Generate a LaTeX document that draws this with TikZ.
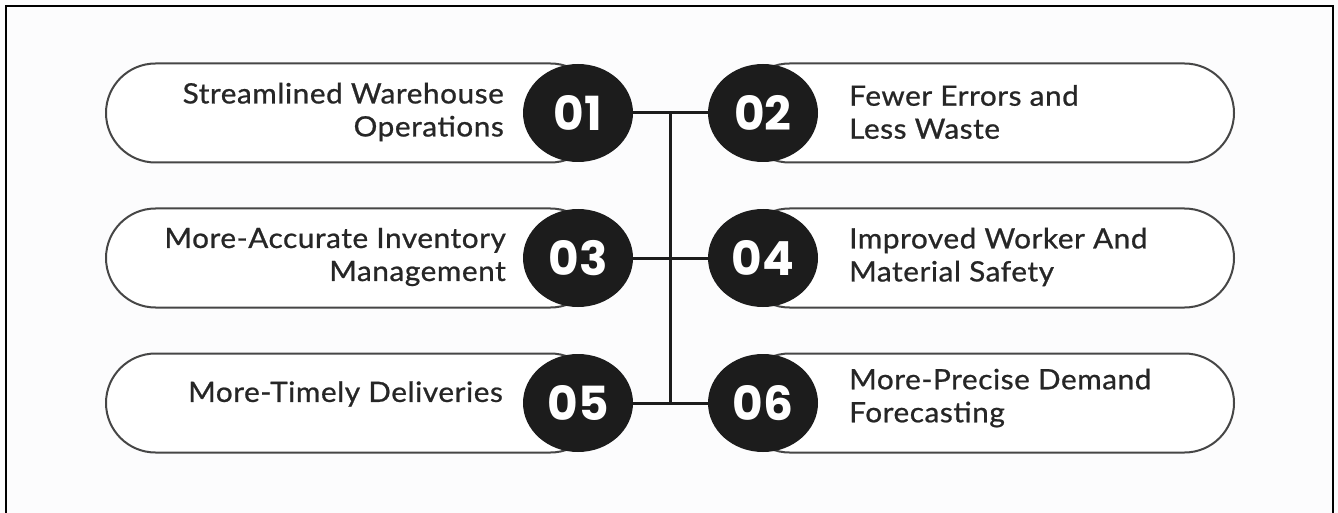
\documentclass[tikz,border=0pt]{standalone}
\usepackage{fontspec}
\setmainfont{Lato}
\newfontfamily\lblfont{Lato}[FakeBold=0.8, LetterSpace=2]
\newfontfamily\numfont{Poppins}
\usetikzlibrary{shapes.geometric,shapes.misc,calc}

\definecolor{ccink}{RGB}{28,28,28}
\definecolor{ccline}{RGB}{70,70,70}
\definecolor{cctext}{RGB}{38,38,38}
\definecolor{ccpaper}{RGB}{252,252,253}

\tikzset{
  pill/.style={rounded rectangle, draw=ccline, line width=2pt, fill=white,
    minimum width=494pt, minimum height=99pt, inner sep=0pt},
  num/.style={ellipse, fill=ccink, minimum width=110pt, minimum height=98pt,
    inner sep=0pt, text=white, font=\numfont\bfseries\fontsize{47}{47}\selectfont},
  lbl/.style={text=cctext, font=\lblfont\fontsize{28}{33}\selectfont,
    inner sep=0pt, xscale=1.06},
  link/.style={line width=3pt, ccink}
}

\begin{document}
\begin{tikzpicture}[x=1pt, y=-1pt]

  \useasboundingbox (0,0) rectangle (1338,513);

  % Paper
  \fill[ccpaper] (0,0) rectangle (1338,513);
  \draw[line width=2pt, black] (6,513) -- (6,6) -- (1333,6) -- (1333,513);

  % Pills
  \draw (353,113) node[pill] (p01) {};
  \draw (987,113) node[pill] (p02) {};
  \draw (353,258) node[pill] (p03) {};
  \draw (987,258) node[pill] (p04) {};
  \draw (353,403) node[pill] (p05) {};
  \draw (987,403) node[pill] (p06) {};

  % Labels
  \draw (504,112) node[lbl, anchor=east, align=right] (t01) {Streamlined Warehouse\\Operations};
  \draw (849,112) node[lbl, anchor=west, align=left] (t02) {Fewer Errors and\\Less Waste};
  \draw (506,257) node[lbl, anchor=east, align=right] (t03) {More-Accurate Inventory\\Management};
  \draw (849,257) node[lbl, anchor=west, align=left] (t04) {Improved Worker And\\Material Safety};
  \draw (503,394) node[lbl, anchor=east, align=right] (t05) {More-Timely Deliveries};
  \draw (849,398) node[lbl, anchor=west, align=left] (t06) {More-Precise Demand\\Forecasting};

  % Numbers
  \draw (578,113) node[num] (n01) {01};
  \draw (763,113) node[num] (n02) {02};
  \draw (578,258) node[num] (n03) {03};
  \draw (763,258) node[num] (n04) {04};
  \draw (578,403) node[num] (n05) {05};
  \draw (763,403) node[num] (n06) {06};

  % Links
  \coordinate (top) at ($(n01.east)!0.5!(n02.west)$);
  \coordinate (bottom) at ($(n05.east)!0.5!(n06.west)$);
  \draw[link] (n01) -- (n02);
  \draw[link] (n03) -- (n04);
  \draw[link] (n05) -- (n06);
  \draw[link] (top) -- (bottom);

\end{tikzpicture}
\end{document}
